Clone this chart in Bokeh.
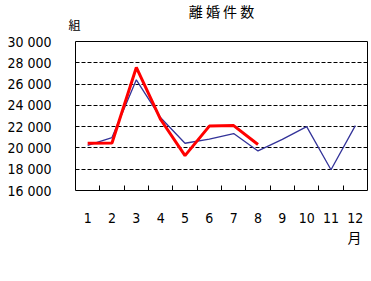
from bokeh.plotting import figure
from bokeh.models import Range1d, FixedTicker, Title
from bokeh.embed import file_html
from bokeh.resources import INLINE

months = [1, 2, 3, 4, 5, 6, 7, 8, 9, 10, 11, 12]
prev_year = [20250, 20970, 26400, 22830, 20440, 20820, 21350, 19720, 20800, 22000, 17950, 22100]
this_year_months = [1, 2, 3, 4, 5, 6, 7, 8]
this_year = [20440, 20470, 27560, 22670, 19280, 22050, 22100, 20320]
y_ticks = [16000, 18000, 20000, 22000, 24000, 26000, 28000, 30000]
y_labels = ["16 000", "18 000", "20 000", "22 000", "24 000", "26 000", "28 000", "30 000"]
title_text = "離 婚 件 数"
unit_text = "組"
month_text = "月"

NUM_FONT = "DejaVu Sans Condensed"
CJK_FONT = "Noto Sans CJK JP"

p = figure(width=371, height=281, output_backend="svg", toolbar_location=None,
           title=None,
           x_range=Range1d(0.5, 12.5), y_range=Range1d(y_ticks[0], y_ticks[-1]),
           min_border_left=75, min_border_right=4, min_border_top=41, min_border_bottom=91)
p.background_fill_color = "white"
p.border_fill_color = "white"
p.outline_line_color = "black"
p.outline_line_width = 1

# axes
p.xaxis.ticker = FixedTicker(ticks=months, minor_ticks=[m + 0.5 for m in months[:-1]])
p.xaxis.axis_line_color = None
p.xaxis.major_tick_line_color = None
p.xaxis.minor_tick_line_color = "black"
p.xaxis.minor_tick_in = 5
p.xaxis.minor_tick_out = 0
p.xaxis.major_label_standoff = 16
p.xaxis.major_label_text_font = NUM_FONT
p.xaxis.major_label_text_font_size = "14px"
p.xaxis.major_label_text_color = "black"

p.yaxis.ticker = FixedTicker(ticks=y_ticks)
p.yaxis.major_label_overrides = {t: s for t, s in zip(y_ticks, y_labels)}
p.yaxis.axis_line_color = None
p.yaxis.major_tick_line_color = None
p.yaxis.minor_tick_line_color = None
p.yaxis.major_label_standoff = 18
p.yaxis.major_label_text_font = NUM_FONT
p.yaxis.major_label_text_font_size = "14px"
p.yaxis.major_label_text_color = "black"

p.xgrid.visible = False
p.ygrid.ticker = FixedTicker(ticks=y_ticks[1:-1])
p.ygrid.grid_line_color = "black"
p.ygrid.grid_line_dash = "4 2"
p.ygrid.grid_line_width = 1

# series
p.line(months, prev_year, line_color="#333399", line_width=1.3)
p.line(this_year_months, this_year, line_color="#FF0000", line_width=3)

# texts
unit_title = Title(text=unit_text, align="left", offset=-7, standoff=17,
                   text_font=CJK_FONT, text_font_size="12px", text_font_style="normal",
                   text_color="black")
main_title = Title(text=title_text, align="center", offset=5, standoff=-30,
                   text_font=CJK_FONT, text_font_size="14px", text_font_style="normal",
                   text_color="black")
p.add_layout(unit_title, "above")
p.add_layout(main_title, "above")
month_title = Title(text=month_text, align="right", offset=6, standoff=-1,
                    text_font=CJK_FONT, text_font_size="14px", text_font_style="normal",
                    text_color="black")
p.add_layout(month_title, "below")

open("out.html", "w").write(file_html(p, INLINE))
